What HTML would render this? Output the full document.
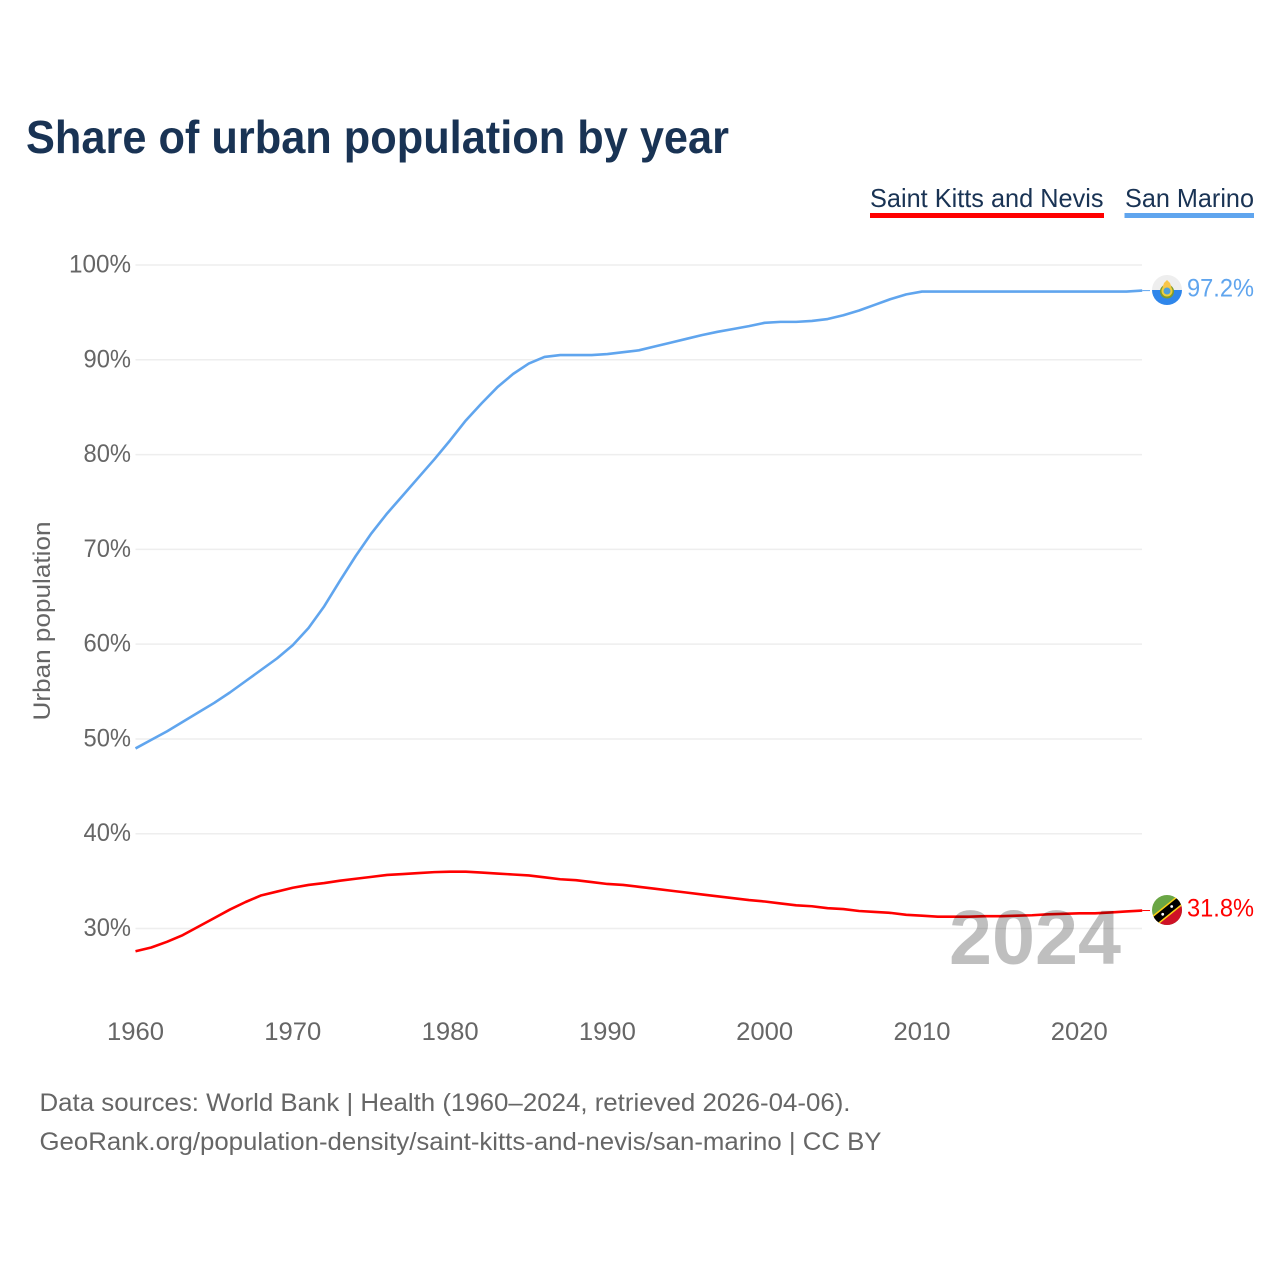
<!DOCTYPE html>
<html lang="en">
<head>
<meta charset="utf-8">
<title>Share of urban population by year</title>
<style>
html,body{margin:0;padding:0;background:#fff;}
svg{display:block;}
text{font-family:"Liberation Sans",sans-serif;}
</style>
</head>
<body>
<svg id="chart" xmlns="http://www.w3.org/2000/svg" width="1280" height="1280" viewBox="0 0 1280 1280">
  <rect x="0" y="0" width="1280" height="1280" fill="#ffffff"/>
  <text x="26" y="153" font-size="46" font-weight="700" fill="#193354" textLength="703" lengthAdjust="spacingAndGlyphs">Share of urban population by year</text>

  <g>
    <text x="870" y="207" font-size="26" fill="#193354" textLength="233.500" lengthAdjust="spacingAndGlyphs">Saint Kitts and Nevis</text>
    <rect x="870" y="213" width="234" height="5" fill="#ff0000"/>
  </g>
  <g>
    <text x="1125" y="207" font-size="26" fill="#193354" textLength="129" lengthAdjust="spacingAndGlyphs">San Marino</text>
    <rect x="1124.500" y="213" width="129.500" height="5" fill="#60a5ee"/>
  </g>

  <g id="grid"></g>
  <g id="yticks"></g>
  <g id="xticks"></g>
  <text transform="translate(50,621) rotate(-90)" text-anchor="middle" font-size="24.500" fill="#666666" textLength="199" lengthAdjust="spacingAndGlyphs">Urban population</text>

  <g id="series"></g>

  <text x="949" y="964" font-size="77" font-weight="700" fill="#000000" fill-opacity="0.25" textLength="172" lengthAdjust="spacingAndGlyphs">2024</text>

  <defs>
    <clipPath id="clip-sm"><circle cx="1167" cy="290" r="15"/></clipPath>
    <clipPath id="clip-kn"><circle cx="1167" cy="910" r="15"/></clipPath>
  </defs>

  <g clip-path="url(#clip-sm)">
    <rect x="1152" y="275" width="30" height="15" fill="#eeeeee"/>
    <rect x="1152" y="290" width="30" height="15" fill="#2f86ea"/>
    <circle cx="1167" cy="291.500" r="7" fill="#7d9a2e"/>
    <circle cx="1167" cy="291" r="5.500" fill="#f0cf3a"/>
    <circle cx="1167" cy="291" r="3.500" fill="#4f9fd8"/>
    <path d="M1162.500 287.500 L1164 283 L1167 280 L1170 283 L1171.500 287.500 Z" fill="#f8c64a"/>
  </g>
  <g clip-path="url(#clip-kn)">
    <rect x="1152" y="895" width="30" height="30" fill="#6aa645"/>
    <path d="M1148 926 L1186 895.500 L1186 930 L1148 930 Z" fill="#ce1126"/>
    <path d="M1148 926 L1186 895.500" stroke="#fcd116" stroke-width="10.500" fill="none"/>
    <path d="M1148 926 L1186 895.500" stroke="#000000" stroke-width="7.500" fill="none"/>
    <circle cx="1162.700" cy="914.300" r="1.400" fill="#ffffff"/>
    <circle cx="1171.700" cy="906.500" r="1.400" fill="#ffffff"/>
  </g>

  <text x="1187" y="296.500" font-size="25" fill="#60a5ee" textLength="67" lengthAdjust="spacingAndGlyphs">97.2%</text>
  <text x="1187" y="916.500" font-size="25" fill="#ff0000" textLength="67" lengthAdjust="spacingAndGlyphs">31.8%</text>

  <text x="39.500" y="1111" font-size="25" fill="#666666" textLength="811" lengthAdjust="spacingAndGlyphs">Data sources: World Bank | Health (1960–2024, retrieved 2026-04-06).</text>
  <text x="39.500" y="1150" font-size="25" fill="#666666" textLength="842" lengthAdjust="spacingAndGlyphs">GeoRank.org/population-density/saint-kitts-and-nevis/san-marino | CC BY</text>
</svg>
<script>
const years = [1960,1961,1962,1963,1964,1965,1966,1967,1968,1969,1970,1971,1972,1973,1974,1975,1976,1977,1978,1979,1980,1981,1982,1983,1984,1985,1986,1987,1988,1989,1990,1991,1992,1993,1994,1995,1996,1997,1998,1999,2000,2001,2002,2003,2004,2005,2006,2007,2008,2009,2010,2011,2012,2013,2014,2015,2016,2017,2018,2019,2020,2021,2022,2023,2024];
const sanMarino = [49.0,49.9,50.8,51.8,52.8,53.8,54.9,56.1,57.3,58.5,59.9,61.7,64.0,66.7,69.3,71.7,73.8,75.7,77.6,79.5,81.5,83.6,85.4,87.1,88.5,89.6,90.3,90.5,90.5,90.5,90.6,90.8,91.0,91.4,91.8,92.2,92.6,92.95,93.25,93.55,93.9,94.0,94.0,94.1,94.3,94.7,95.2,95.8,96.4,96.9,97.2,97.2,97.2,97.2,97.2,97.2,97.2,97.2,97.2,97.2,97.2,97.2,97.2,97.2,97.3];
const saintKitts = [27.6,28.0,28.6,29.3,30.2,31.1,32.0,32.8,33.5,33.9,34.3,34.6,34.8,35.05,35.25,35.45,35.65,35.75,35.85,35.95,36.0,36.0,35.9,35.8,35.7,35.6,35.4,35.2,35.1,34.9,34.7,34.6,34.4,34.2,34.0,33.8,33.6,33.4,33.2,33.0,32.85,32.65,32.45,32.35,32.15,32.05,31.85,31.75,31.65,31.45,31.35,31.25,31.25,31.25,31.3,31.3,31.35,31.4,31.5,31.55,31.6,31.6,31.7,31.8,31.9];
const yTickValues = [30,40,50,60,70,80,90,100];
const yTickLabels = ['30%','40%','50%','60%','70%','80%','90%','100%'];
const xTickValues = [1960,1970,1980,1990,2000,2010,2020];
const xTickLabels = ['1960','1970','1980','1990','2000','2010','2020'];

const NS = 'http://www.w3.org/2000/svg';
function xScale(year){ return 135.5 + (year - 1960) * 15.73; }
function yScale(value){ return 265 + (100 - value) * 9.479; }

const gridGroup = document.getElementById('grid');
const yTickGroup = document.getElementById('yticks');
const xTickGroup = document.getElementById('xticks');
const seriesGroup = document.getElementById('series');

yTickValues.forEach(function(value, i){
  const line = document.createElementNS(NS, 'line');
  
  
  line.setAttribute('x1', xScale(1960));
  line.setAttribute('x2', 1142);
  line.setAttribute('y1', yScale(value));
  line.setAttribute('y2', yScale(value));
  line.setAttribute('stroke', '#eeeeee');
  line.setAttribute('stroke-width', '1.5');
  gridGroup.appendChild(line);

  const label = document.createElementNS(NS, 'text');
  
  
  label.setAttribute('x', 131);
  label.setAttribute('y', yScale(value) + 7.5);
  label.setAttribute('text-anchor', 'end');
  label.setAttribute('font-size', '25');
  label.setAttribute('fill', '#666666');
  label.setAttribute('textLength', yTickLabels[i].length > 3 ? '62' : '47.5');
  label.setAttribute('lengthAdjust', 'spacingAndGlyphs');
  label.textContent = yTickLabels[i];
  yTickGroup.appendChild(label);
});

xTickValues.forEach(function(year, i){
  const label = document.createElementNS(NS, 'text');
  
  
  label.setAttribute('x', xScale(year));
  label.setAttribute('y', 1040);
  label.setAttribute('text-anchor', 'middle');
  label.setAttribute('font-size', '25');
  label.setAttribute('fill', '#666666');
  label.setAttribute('textLength', '57');
  label.setAttribute('lengthAdjust', 'spacingAndGlyphs');
  label.textContent = xTickLabels[i];
  xTickGroup.appendChild(label);
});

function pathFor(values){
  return values.map(function(value, i){
    return (i ? 'L' : 'M') + xScale(years[i]).toFixed(2) + ' ' + yScale(value).toFixed(2);
  }).join(' ');
}

const blueLine = document.createElementNS(NS, 'path');


blueLine.setAttribute('d', pathFor(sanMarino));
blueLine.setAttribute('fill', 'none');
blueLine.setAttribute('stroke', '#60a5ee');
blueLine.setAttribute('stroke-width', '2.6');
blueLine.setAttribute('stroke-linejoin', 'round');
seriesGroup.appendChild(blueLine);

const redLine = document.createElementNS(NS, 'path');


redLine.setAttribute('d', pathFor(saintKitts));
redLine.setAttribute('fill', 'none');
redLine.setAttribute('stroke', '#ff0000');
redLine.setAttribute('stroke-width', '2.6');
redLine.setAttribute('stroke-linejoin', 'round');
seriesGroup.appendChild(redLine);

const lastYear = years[years.length - 1];

const blueConnector = document.createElementNS(NS, 'line');


blueConnector.setAttribute('x1', xScale(lastYear));
blueConnector.setAttribute('x2', 1150);
blueConnector.setAttribute('y1', yScale(sanMarino[sanMarino.length - 1]));
blueConnector.setAttribute('y2', yScale(sanMarino[sanMarino.length - 1]));
blueConnector.setAttribute('stroke', '#60a5ee');
blueConnector.setAttribute('stroke-width', '1');
seriesGroup.appendChild(blueConnector);

const redConnector = document.createElementNS(NS, 'line');


redConnector.setAttribute('x1', xScale(lastYear));
redConnector.setAttribute('x2', 1150);
redConnector.setAttribute('y1', yScale(saintKitts[saintKitts.length - 1]));
redConnector.setAttribute('y2', yScale(saintKitts[saintKitts.length - 1]));
redConnector.setAttribute('stroke', '#ff0000');
redConnector.setAttribute('stroke-width', '1');
seriesGroup.appendChild(redConnector);
</script>
</body>
</html>
